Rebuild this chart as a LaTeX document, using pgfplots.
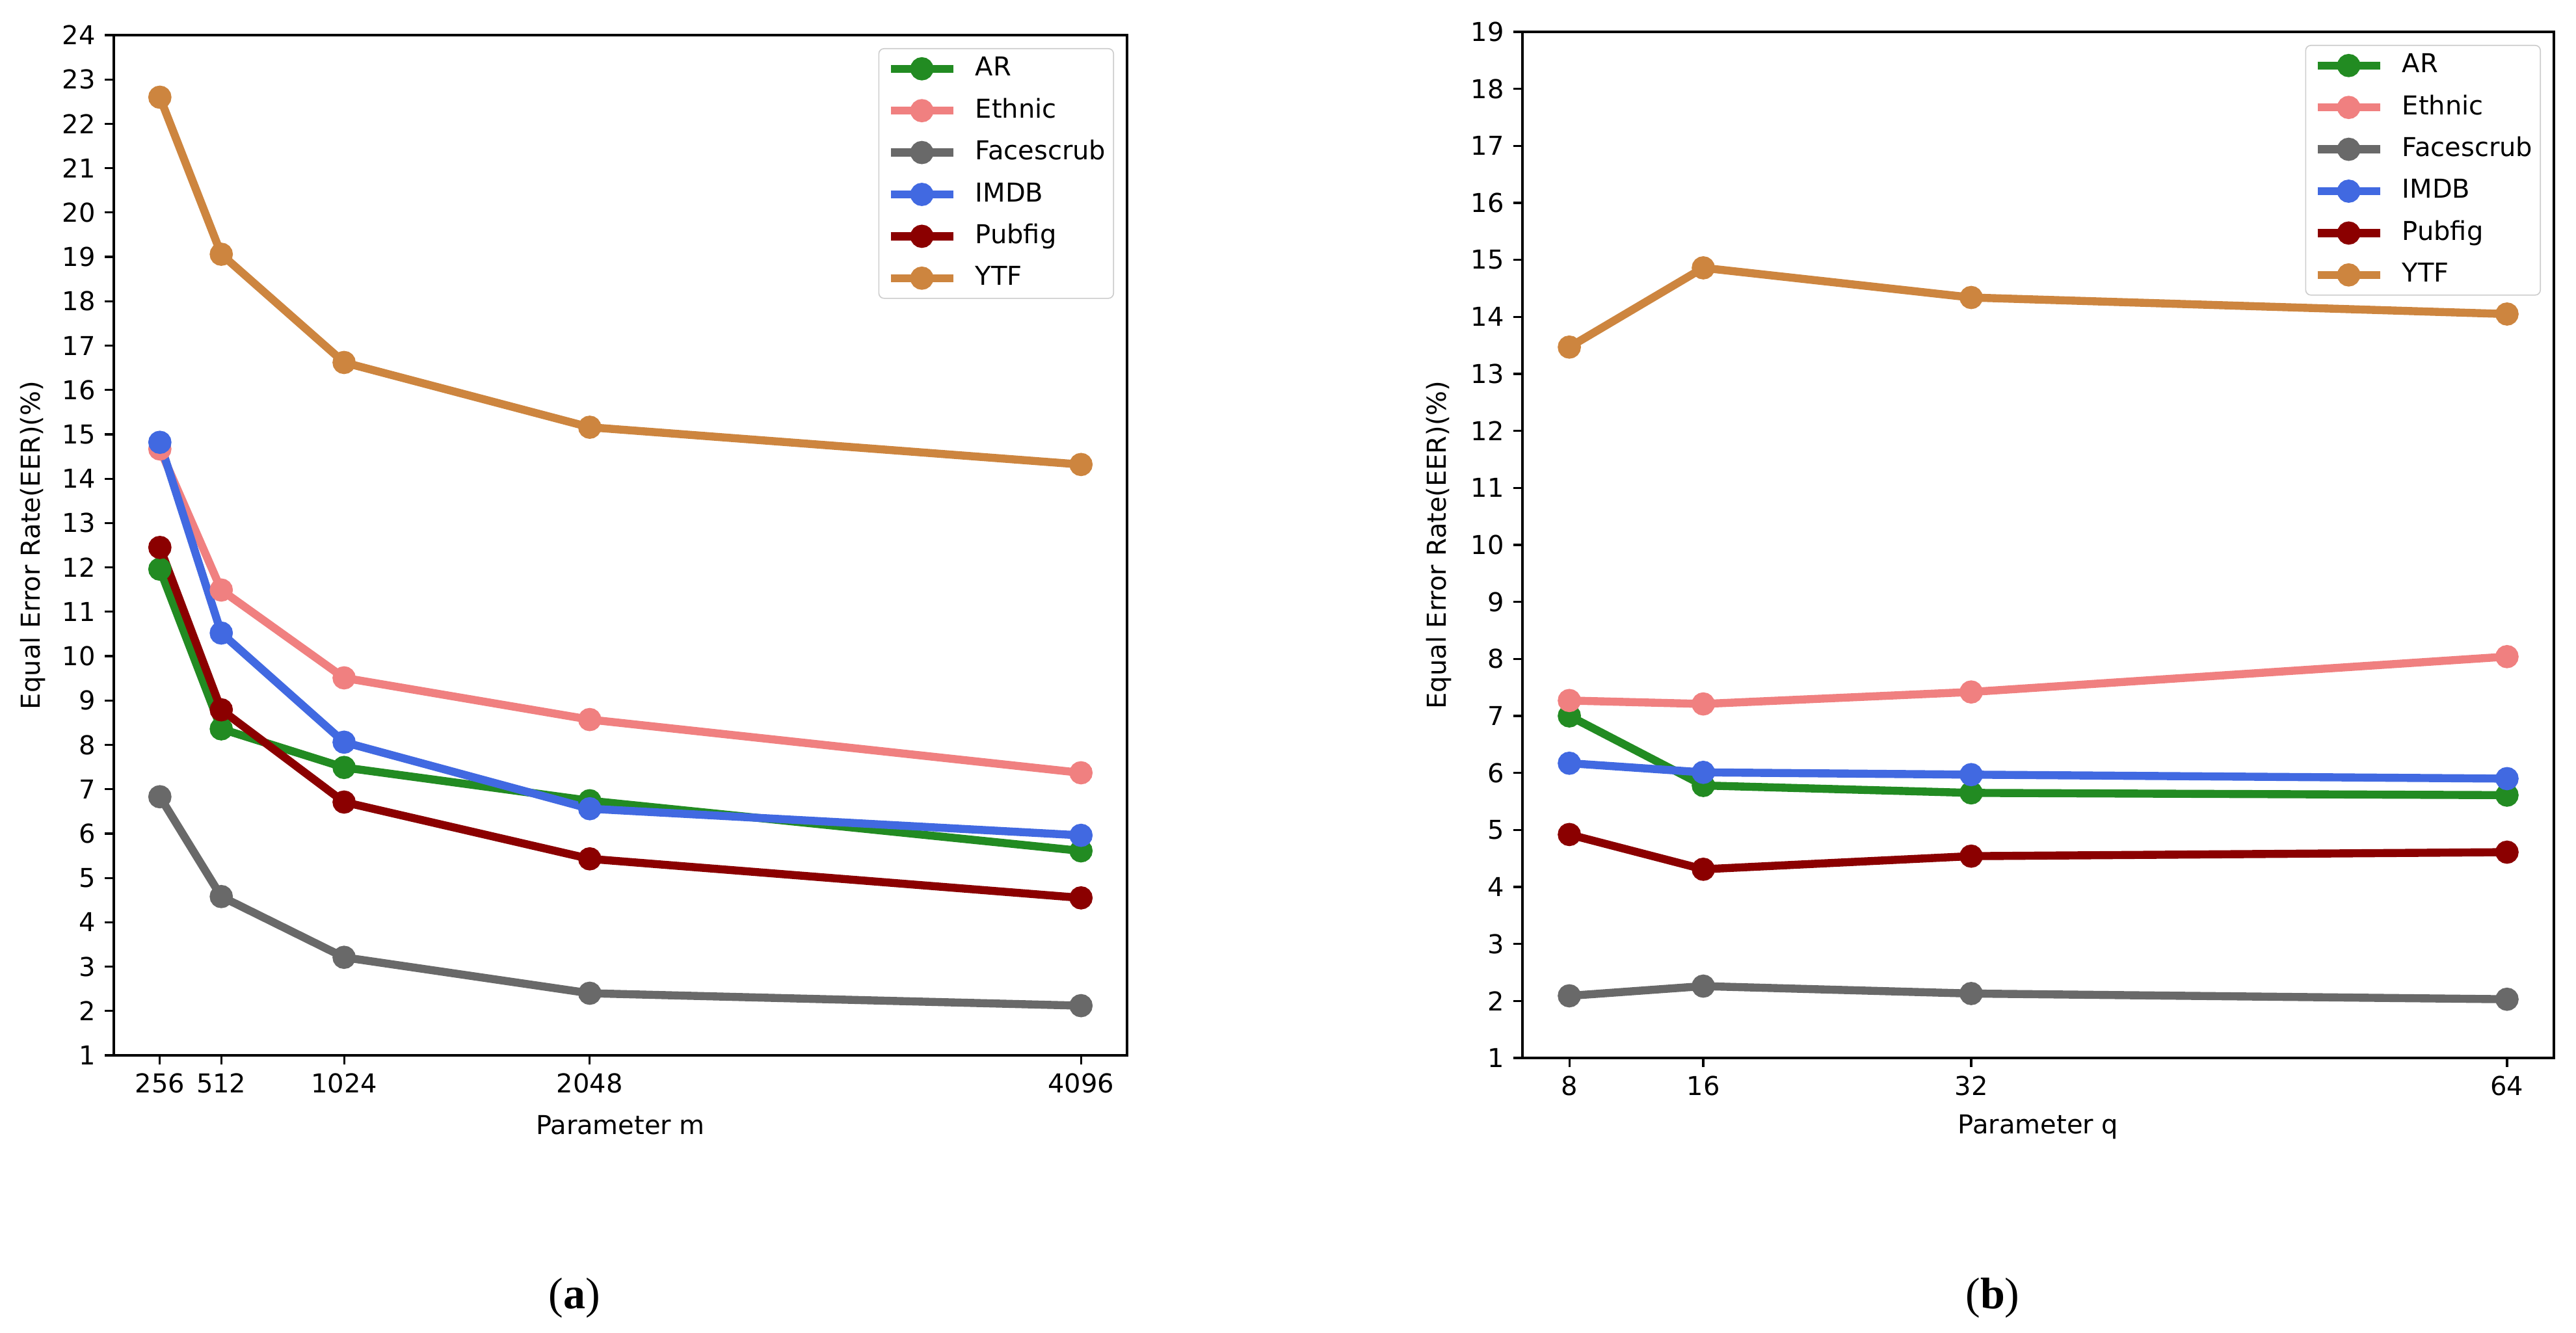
\documentclass[border=0pt]{standalone}
\usepackage{pgfplots}
\pgfplotsset{compat=1.18}
\usepackage{fontspec}
\setmainfont{DejaVu Sans}
\newfontfamily\capfont{Liberation Serif}
\definecolor{cAR}{RGB}{34,139,34}
\definecolor{cEth}{RGB}{240,128,128}
\definecolor{cFace}{RGB}{105,105,105}
\definecolor{cIMDB}{RGB}{65,105,225}
\definecolor{cPub}{RGB}{139,0,0}
\definecolor{cYTF}{RGB}{205,133,63}
\pgfplotsset{
  every axis/.append style={
    scale only axis,
    axis line style={line width=0.8pt},
    tick style={line width=0.8pt, black},
    major tick length=3.5pt,
    tick align=outside,
    xtick pos=bottom, ytick pos=left,
    /pgf/number format/assume math mode=true,
    ticklabel style={font=\fontsize{10}{12}\selectfont},
    label style={font=\fontsize{10}{12}\selectfont},
    legend cell align=left,
    legend style={font=\fontsize{10}{12}\selectfont, draw=black!20, rounded corners=2pt,
      at={(1,1)}, anchor=north east, xshift=-5pt, yshift=-5pt,
      inner sep=3pt, row sep=6.6pt, column sep=7pt,
      nodes={inner sep=0pt, text height=7.5pt, text depth=2pt}},
    legend image code/.code={\draw[#1,mark repeat=2,mark phase=2] plot coordinates {(0pt,0pt) (12pt,0pt) (24pt,0pt)};},
  },
  ser/.style={line width=3.1pt, mark=*, mark size=2.9pt, mark options={solid}},
}
\pgfplotstableread{
x AR Eth Face IMDB Pub YTF
256 11.96 14.67 6.83 14.82 12.45 22.60
512 8.36 11.49 4.58 10.52 8.79 19.06
1024 7.49 9.51 3.21 8.06 6.71 16.62
2048 6.74 8.57 2.40 6.56 5.43 15.16
4096 5.61 7.37 2.12 5.96 4.55 14.32
}\tabm
\pgfplotstableread{
x AR Eth Face IMDB Pub YTF
8 7.00 7.27 2.09 6.17 4.92 13.47
16 5.78 7.21 2.26 6.01 4.31 14.86
32 5.65 7.42 2.13 5.97 4.54 14.34
64 5.61 8.04 2.03 5.90 4.61 14.05
}\tabq
\begin{document}
\begin{tikzpicture}
\path[use as bounding box] (0,0) rectangle (990.25pt,512.25pt);
\begin{axis}[
  at={(43.75pt,106.5pt)}, anchor=south west,
  width=389.5pt, height=392.25pt,
  xmin=64, xmax=4288, ymin=1, ymax=24,
  xtick={256,512,1024,2048,4096},
  xticklabels={256,512,1024,2048,4096},
  ytick={1,2,...,24},
  xlabel={Parameter m},
  ylabel={Equal Error Rate(EER)(\%)},
  xlabel style={at={(axis description cs:0.5,-0.0682)}, anchor=center},
  ylabel style={at={(axis description cs:-0.0802,0.5)}, anchor=center},
]
\addplot[ser, color=cAR] table[x=x,y=AR]{\tabm};
\addlegendentry{AR}
\addplot[ser, color=cEth] table[x=x,y=Eth]{\tabm};
\addlegendentry{Ethnic}
\addplot[ser, color=cFace] table[x=x,y=Face]{\tabm};
\addlegendentry{Facescrub}
\addplot[ser, color=cIMDB] table[x=x,y=IMDB]{\tabm};
\addlegendentry{IMDB}
\addplot[ser, color=cPub] table[x=x,y=Pub]{\tabm};
\addlegendentry{Pubfig}
\addplot[ser, color=cYTF] table[x=x,y=YTF]{\tabm};
\addlegendentry{YTF}
\end{axis}
\begin{axis}[
  at={(585.25pt,105.5pt)}, anchor=south west,
  width=396.5pt, height=394.5pt,
  xmin=5.2, xmax=66.8, ymin=1, ymax=19,
  xtick={8,16,32,64},
  ytick={1,2,...,19},
  xlabel={Parameter q},
  ylabel={Equal Error Rate(EER)(\%)},
  xlabel style={at={(axis description cs:0.5,-0.0672)}, anchor=center},
  ylabel style={at={(axis description cs:-0.0813,0.5)}, anchor=center},
]
\addplot[ser, color=cAR] table[x=x,y=AR]{\tabq};
\addlegendentry{AR}
\addplot[ser, color=cEth] table[x=x,y=Eth]{\tabq};
\addlegendentry{Ethnic}
\addplot[ser, color=cFace] table[x=x,y=Face]{\tabq};
\addlegendentry{Facescrub}
\addplot[ser, color=cIMDB] table[x=x,y=IMDB]{\tabq};
\addlegendentry{IMDB}
\addplot[ser, color=cPub] table[x=x,y=Pub]{\tabq};
\addlegendentry{Pubfig}
\addplot[ser, color=cYTF] table[x=x,y=YTF]{\tabq};
\addlegendentry{YTF}
\end{axis}
\node[font=\capfont\fontsize{17}{20}\selectfont, anchor=center] at (220.75pt,13.25pt) {(\textbf{a})};
\node[font=\capfont\fontsize{17}{20}\selectfont, anchor=center] at (766pt,13.25pt) {(\textbf{b})};
\end{tikzpicture}
\end{document}
